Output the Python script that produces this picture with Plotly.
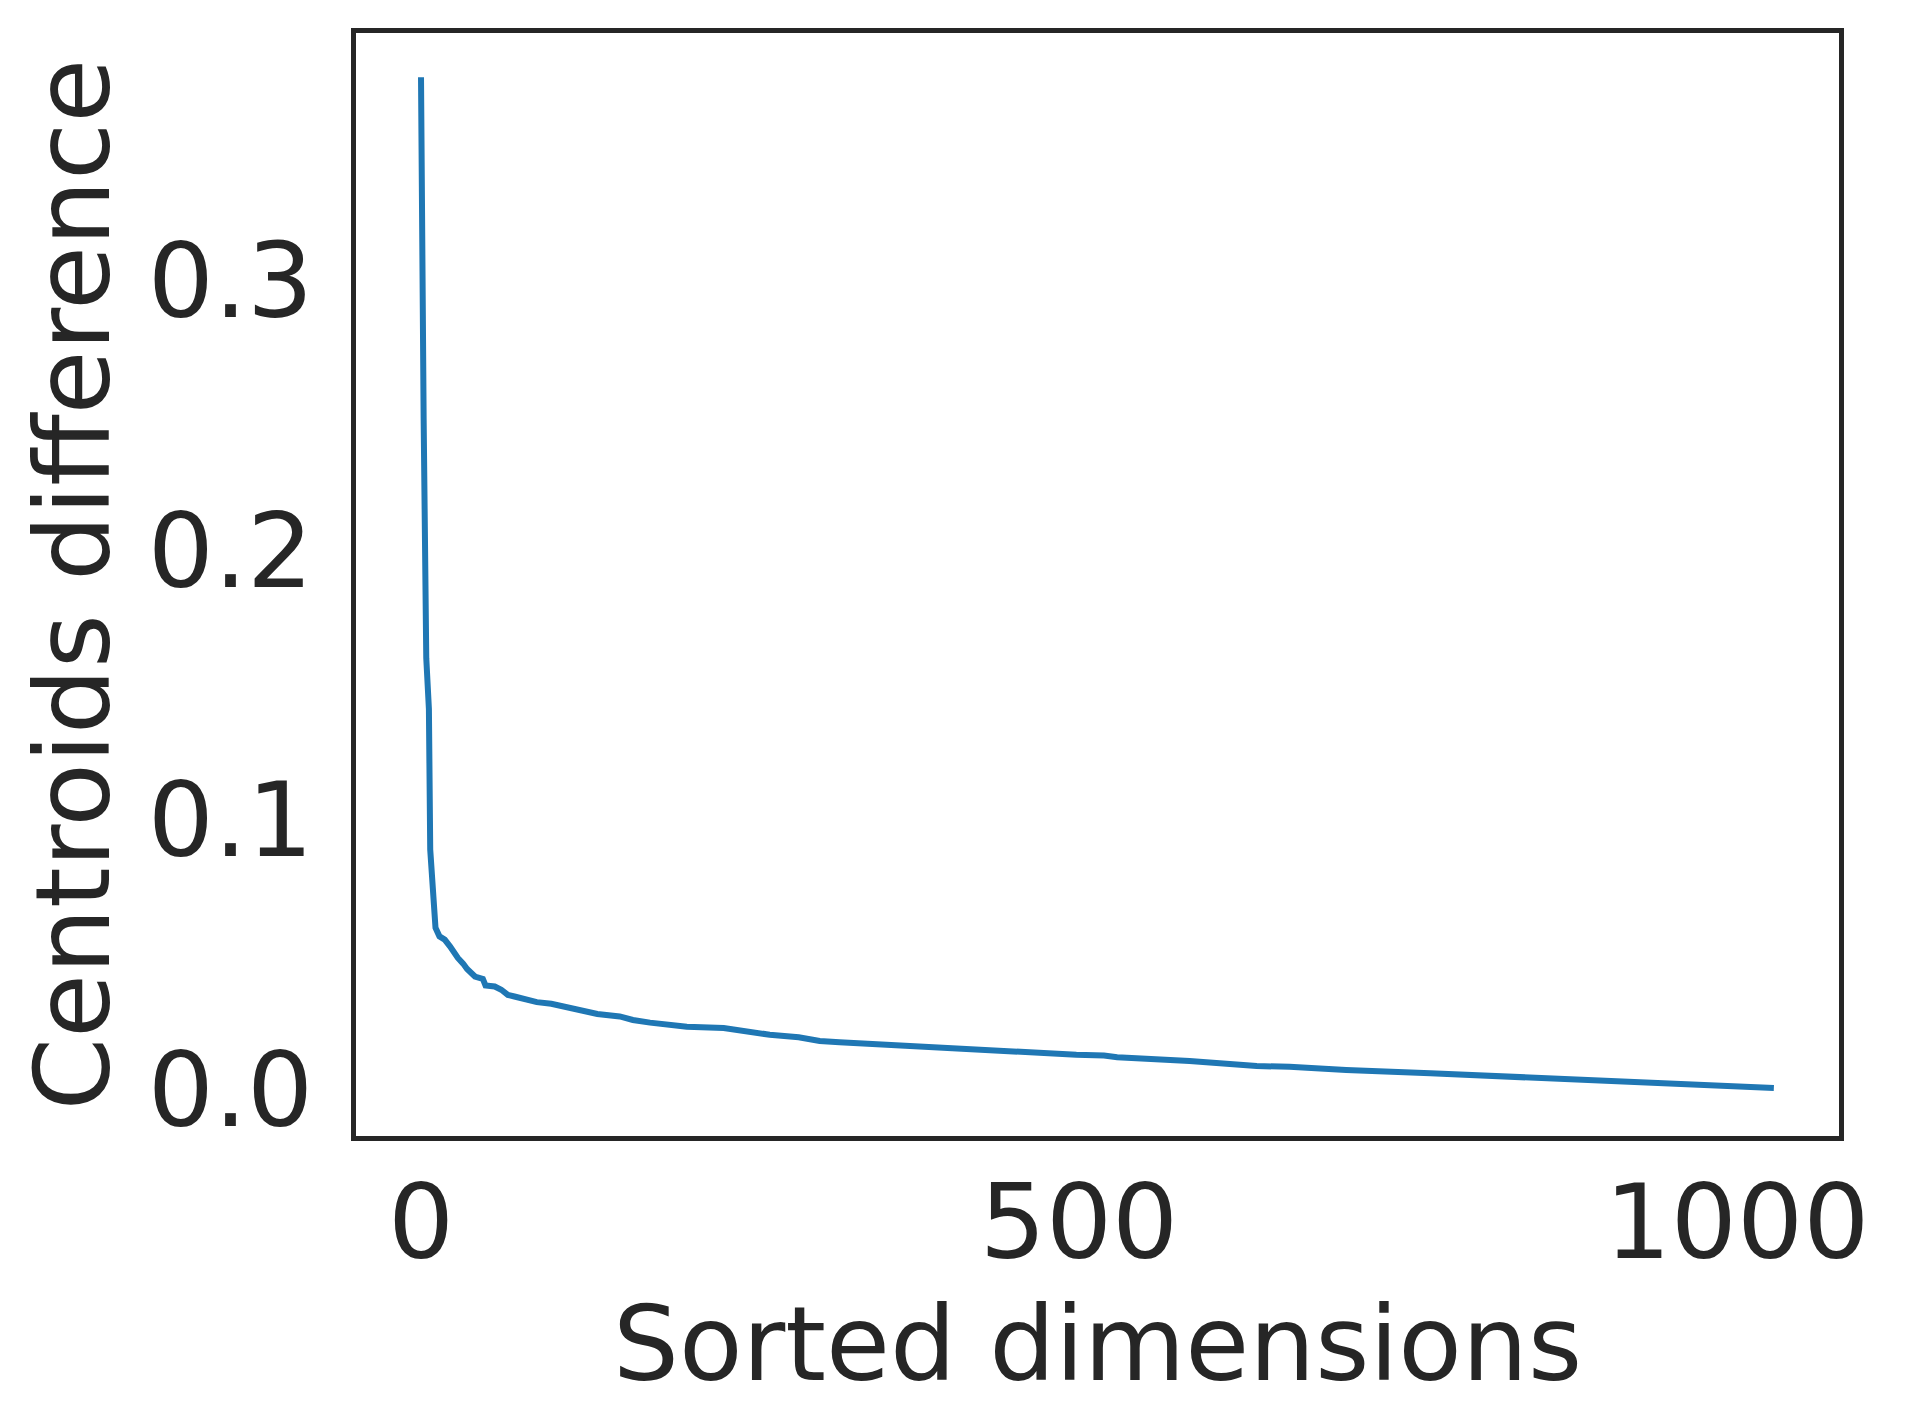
import plotly.graph_objects as go

# Sorted dimension index and centroid difference
dims = [0, 1, 2, 4, 5, 6, 7, 8, 10, 11, 14, 18, 22, 25, 28, 32, 35, 41, 47, 49,
        56, 61, 66, 71, 78, 88, 99, 106, 112, 123, 134, 151, 161, 174, 187, 202,
        230, 245, 265, 287, 303, 318, 356, 382, 427, 458, 498, 519, 529, 584,
        600, 620, 635, 660, 703, 767, 830, 893, 957, 1028]
diff = [0.3755, 0.277, 0.249, 0.160, 0.1437, 0.1411, 0.089, 0.0823, 0.0678, 0.0600,
        0.0568, 0.0556, 0.0531, 0.0506, 0.0488, 0.0467, 0.0447, 0.0419, 0.0410, 0.0386,
        0.0382, 0.0370, 0.0351, 0.0345, 0.0335, 0.0324, 0.0318, 0.0310, 0.0306, 0.0293,
        0.0280, 0.0271, 0.0258, 0.0248, 0.0242, 0.0233, 0.0228, 0.0217, 0.0203, 0.0194,
        0.0180, 0.0175, 0.0165, 0.0159, 0.0144, 0.0139, 0.0129, 0.0126, 0.0120, 0.0106,
        0.0099, 0.0095, 0.0087, 0.0084, 0.0072, 0.0060, 0.0048, 0.0035, 0.0023, 0.0006]

x_ticks = [0, 500, 1000]
x_ticktext = ["0", "500", "1000"]
y_ticks = [0.0, 0.1, 0.2, 0.3]
y_ticktext = ["0.0", "0.1", "0.2", "0.3"]

x_title = "Sorted dimensions"
y_title = "Centroids difference"

FONT = "DejaVu Sans"
TEXT = "#262626"
FS = 104

fig = go.Figure()
fig.add_trace(go.Scatter(
    x=dims, y=diff, mode="lines",
    line=dict(color="#1f77b4", width=6),
    showlegend=False, hoverinfo="skip",
))

# page body adds an 8px offset, so the figure is 16px smaller than the window
fig.update_layout(
    width=1889, height=1411,
    margin=dict(l=348, r=58, t=25, b=283, pad=0),
    paper_bgcolor="white", plot_bgcolor="white",
    font=dict(family=FONT, size=FS, color=TEXT),
)
fig.update_xaxes(
    range=[-49.4, 1077.5],
    tickmode="array", tickvals=x_ticks, ticktext=x_ticktext,
    ticks="", ticklabelstandoff=-8,
    showgrid=False, zeroline=False,
    showline=True, mirror=True, linecolor=TEXT, linewidth=5,
    tickfont=dict(family=FONT, size=FS, color=TEXT),
    title=dict(text=x_title, font=dict(family=FONT, size=FS, color=TEXT), standoff=26),
)
fig.update_yaxes(
    range=[-0.01725, 0.3919],
    tickmode="array", tickvals=y_ticks, ticktext=y_ticktext,
    ticks="", ticklabelstandoff=17,
    showgrid=False, zeroline=False,
    showline=True, mirror=True, linecolor=TEXT, linewidth=5,
    tickfont=dict(family=FONT, size=FS, color=TEXT),
)
# y-axis title as a rotated annotation (axis titles are clamped to the margin)
fig.add_annotation(
    text=y_title, textangle=-90,
    xref="paper", yref="paper", x=0, y=0.5,
    xanchor="center", yanchor="middle", xshift=-284,
    showarrow=False,
    font=dict(family=FONT, size=FS, color=TEXT),
)

fig.write_html("out.html")
